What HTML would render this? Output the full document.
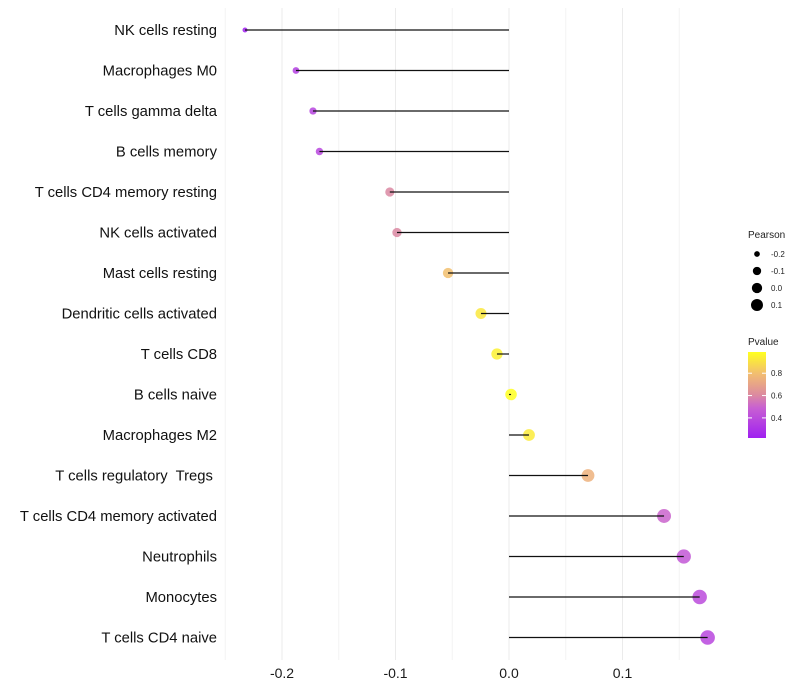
<!DOCTYPE html>
<html><head><meta charset="utf-8"><style>
body{margin:0;background:#fff;font-family:"Liberation Sans",sans-serif;}
svg{display:block}
text{white-space:pre}
</style></head><body>
<svg id="chart" width="800" height="700"></svg>
<script>
const categories=["NK cells resting","Macrophages M0","T cells gamma delta","B cells memory","T cells CD4 memory resting","NK cells activated","Mast cells resting","Dendritic cells activated","T cells CD8","B cells naive","Macrophages M2","T cells regulatory  Tregs ","T cells CD4 memory activated","Neutrophils","Monocytes","T cells CD4 naive"];
const pearson=[-0.2326,-0.1877,-0.1727,-0.167,-0.105,-0.0987,-0.0537,-0.0247,-0.0106,0.0018,0.0176,0.0696,0.1366,0.154,0.168,0.175];
const pvalue=[0.22,0.35,0.37,0.38,0.6,0.6,0.8,0.92,0.95,0.99,0.93,0.75,0.5,0.45,0.4,0.38];
const xTicks=[-0.2,-0.1,0.0,0.1];
const xTickLabels=["-0.2","-0.1","0.0","0.1"];
const sizeLegend=[-0.2,-0.1,0.0,0.1];
const colorLegendTicks=[0.8,0.6,0.4];

const NS="http://www.w3.org/2000/svg";
const svg=document.getElementById('chart');
function el(t,a,p){const e=document.createElementNS(NS,t);for(const k in a)e.setAttribute(k,a[k]);(p||svg).appendChild(e);return e;}
const X=v=>509+v*1135;
const Y=i=>30+i*40.5;
const R=v=>Math.sqrt(Math.max(4,33+115*v));
const stops=[[0,[160,32,240]],[0.35,[200,96,210]],[0.5,[220,138,160]],[0.75,[242,190,112]],[1,[255,255,32]]];
const pMin=0.22,pMax=0.99;
function col(p){let t=Math.min(1,Math.max(0,(p-pMin)/(pMax-pMin)));for(let i=1;i<stops.length;i++){if(t<=stops[i][0]){const a=stops[i-1],b=stops[i];const f=(t-a[0])/(b[0]-a[0]);const c=a[1].map((v,j)=>Math.round(v+(b[1][j]-v)*f));return `rgb(${c})`;}}return 'rgb(255,255,32)';}

const grid=el('g',{});


for(let k=-5;k<=3;k++){const v=k*0.05;el('line',{x1:X(v),x2:X(v),y1:8,y2:660,stroke:k%2===0?'#ebebeb':'#f3f3f3','stroke-width':1},grid);}

xTicks.forEach((v,i)=>{const t=el('text',{x:X(v),y:678,'text-anchor':'middle','font-size':14,fill:'#1a1a1a'});t.textContent=xTickLabels[i];

});

categories.forEach((c,i)=>{
 const t=el('text',{x:217,y:Y(i)+5,'text-anchor':'end','font-size':14.8,fill:'#111'});t.textContent=c;
 
 
 const pt=el('circle',{cx:X(pearson[i]),cy:Y(i),r:R(pearson[i]),fill:col(pvalue[i]),'fill-opacity':0.85});
 
 
 const ln=el('line',{x1:X(0),x2:X(pearson[i]),y1:Y(i),y2:Y(i),stroke:'#111','stroke-width':1.2});
 
 
});

const lg=el('g',{});


el('text',{x:748,y:238,'font-size':10,fill:'#222'},lg).textContent='Pearson';
sizeLegend.forEach((v,i)=>{const y=254+i*17;el('circle',{cx:757,cy:y,r:R(v)*0.9,fill:'#000'},lg);
 const t=el('text',{x:771,y:y+3,'font-size':8,fill:'#222'},lg);t.textContent=v.toFixed(1);});
el('text',{x:748,y:345,'font-size':10,fill:'#222'},lg).textContent='Pvalue';
const defs=el('defs',{});const gr=el('linearGradient',{id:'pg',x1:0,y1:1,x2:0,y2:0},defs);
stops.forEach(s=>el('stop',{offset:s[0],'stop-color':`rgb(${s[1]})`},gr));
el('rect',{x:748,y:352,width:18,height:86,fill:'url(#pg)'},lg);
const cy=p=>438-(p-pMin)/(pMax-pMin)*86;
colorLegendTicks.forEach(p=>{el('line',{x1:748,x2:752,y1:cy(p),y2:cy(p),stroke:'#fff'},lg);el('line',{x1:762,x2:766,y1:cy(p),y2:cy(p),stroke:'#fff'},lg);
 el('text',{x:771,y:cy(p)+3,'font-size':8,fill:'#222'},lg).textContent=p.toFixed(1);});
</script>
</body></html>
